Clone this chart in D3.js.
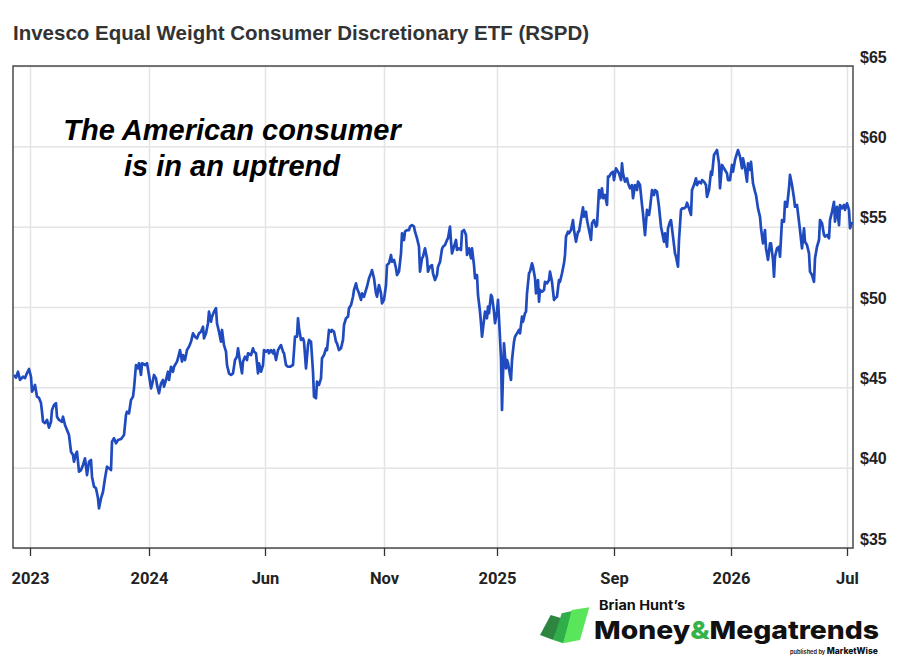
<!DOCTYPE html>
<meta charset="utf-8">
<script src="https://d3js.org/d3.v7.min.js"></script>
<body style="margin:0;background:#fff">
    <div id="viz"></div>
</body>

<style>
    text { font-family: "Liberation Sans", Arial, sans-serif; }
</style>

<script>
    // price series: [trading day, close]
    let series = [
        [1,45.77],[3,45.60],[5,45.97],[7,45.46],[10,45.66],[12,45.58],[14,45.89],[16,46.14],[18,45.66],[19,44.73],
        [21,44.96],[22,45.15],[24,44.42],[26,44.34],[28,44.02],[29,43.48],[30,42.86],[32,42.78],[34,42.97],[36,42.49],
        [38,42.86],[39,43.59],[41,43.90],[43,44.01],[44,43.17],[46,42.97],[49,42.86],[50,43.17],[52,42.66],[54,42.34],
        [56,42.03],[58,40.99],[60,40.79],[61,40.37],[63,40.89],[64,40.99],[66,39.75],[68,39.85],[70,40.17],[72,40.58],
        [74,39.54],[76,40.37],[78,40.48],[79,39.44],[81,38.82],[83,38.72],[85,38.09],[86,37.47],[88,38.09],[90,38.50],
        [92,39.34],[94,40.06],[96,39.96],[98,39.85],[99,41.62],[101,41.83],[103,41.52],[105,41.72],[108,41.78],[111,42.03],
        [113,43.28],[114,43.48],[116,43.38],[118,44.21],[120,44.42],[121,44.94],[123,46.39],[125,46.18],[126,46.50],[128,45.77],
        [129,46.50],[132,46.39],[134,46.50],[136,45.77],[138,44.94],[139,45.15],[141,45.77],[143,45.56],[144,45.15],[146,44.63],
        [148,45.25],[150,45.46],[151,45.04],[153,45.46],[155,45.97],[156,45.46],[158,46.28],[160,45.97],[161,46.28],[164,46.60],
        [165,46.81],[167,47.32],[169,46.60],[170,47.01],[172,46.70],[174,47.32],[176,47.53],[178,47.84],[180,48.36],[182,48.15],
        [184,48.05],[186,48.36],[188,48.46],[190,48.77],[191,48.05],[193,48.36],[195,48.99],[196,49.71],[198,49.09],[199,49.40],
        [201,49.71],[203,49.92],[204,48.99],[206,48.46],[208,47.84],[209,48.57],[211,47.63],[213,47.22],[214,46.39],[216,45.87],
        [218,45.77],[220,45.87],[222,46.70],[224,46.91],[225,47.43],[227,46.60],[229,45.87],[230,46.60],[232,46.91],[234,46.70],
        [235,47.12],[238,47.01],[240,47.43],[241,47.22],[243,47.12],[245,45.87],[246,46.50],[248,45.97],[250,46.39],[251,47.32],
        [253,47.22],[255,47.32],[256,47.12],[258,47.32],[260,47.12],[261,47.32],[263,46.70],[265,47.32],[266,47.43],[268,47.63],
        [270,47.22],[271,47.12],[273,46.39],[275,46.28],[277,46.28],[280,46.39],[282,48.15],[284,48.15],[285,49.30],[286,48.67],
        [288,47.95],[290,48.05],[291,47.84],[293,46.18],[295,47.63],[296,47.95],[298,47.84],[300,45.97],[301,44.42],[303,44.32],
        [304,45.35],[306,45.15],[308,45.56],[309,46.81],[311,47.01],[313,47.43],[314,47.32],[316,48.57],[318,48.46],[319,48.57],
        [321,48.46],[323,47.84],[324,47.74],[326,47.32],[328,47.43],[330,47.95],[331,48.88],[333,49.30],[335,49.40],[336,49.92],
        [338,50.12],[340,50.64],[341,51.06],[343,51.47],[344,51.16],[346,50.85],[348,50.44],[349,50.85],[351,50.64],[353,51.06],
        [354,51.26],[356,51.79],[358,52.10],[359,52.30],[361,51.79],[363,50.85],[364,50.64],[366,51.37],[368,50.85],[369,50.23],
        [371,50.44],[373,51.37],[374,52.61],[376,52.72],[378,53.24],[379,52.82],[381,52.93],[383,52.41],[384,51.99],[386,52.20],
        [388,53.34],[389,54.59],[391,54.17],[392,54.69],[394,54.79],[396,54.79],[397,55.00],[399,55.10],[401,55.00],[402,54.69],
        [404,54.28],[406,53.75],[407,52.20],[409,53.03],[410,53.13],[412,53.65],[414,53.03],[415,52.20],[417,52.51],[419,52.61],
        [420,52.10],[422,51.68],[424,51.99],[425,52.51],[427,52.80],[429,53.61],[430,53.75],[432,53.86],[434,54.17],[435,54.28],
        [437,55.00],[438,54.06],[439,53.34],[441,53.75],[443,54.17],[444,53.55],[446,53.65],[448,53.55],[449,54.69],[451,54.79],
        [453,54.48],[454,53.24],[456,53.65],[458,53.03],[459,53.65],[461,52.61],[462,51.79],[464,51.99],[465,50.75],[467,49.71],
        [468,48.99],[469,48.15],[471,49.19],[472,49.71],[474,49.30],[475,50.02],[476,49.61],[478,50.75],[479,50.64],[481,49.71],
        [482,48.99],[484,49.71],[485,50.44],[486,49.30],[488,46.81],[489,43.59],[490,45.77],[491,47.74],[493,46.18],[494,46.70],
        [495,46.50],[497,45.77],[498,45.46],[499,46.70],[501,47.84],[502,48.15],[504,48.36],[506,48.57],[507,48.36],[509,49.40],
        [510,49.09],[512,49.61],[513,49.71],[514,50.85],[516,52.10],[517,52.20],[519,52.72],[520,52.51],[522,51.79],[523,50.85],
        [525,51.68],[526,50.33],[527,51.06],[529,50.95],[531,51.06],[532,51.57],[534,51.47],[536,51.68],[537,52.20],[539,51.57],
        [541,50.44],[542,50.54],[544,50.64],[546,51.68],[547,51.57],[549,52.10],[551,52.72],[552,53.24],[553,54.38],[555,54.69],
        [556,54.59],[558,54.79],[560,55.41],[561,54.79],[563,54.06],[565,54.69],[566,54.69],[569,55.83],[570,56.20],[571,55.62],
        [573,55.93],[574,55.41],[576,54.79],[578,54.17],[579,55.21],[581,55.41],[583,55.00],[584,55.10],[586,57.28],[587,56.77],
        [589,57.39],[590,56.77],[592,56.97],[594,56.35],[595,58.11],[596,58.11],[598,58.32],[600,58.42],[601,57.90],[603,58.63],
        [604,58.53],[606,58.32],[608,57.90],[609,58.94],[610,58.32],[612,57.80],[614,58.01],[615,57.70],[617,57.39],[619,57.59],
        [620,56.77],[622,57.59],[624,57.28],[625,57.80],[627,57.59],[629,56.35],[630,55.83],[632,54.48],[634,56.04],[636,55.73],
        [637,56.14],[639,57.28],[641,56.97],[642,57.28],[644,57.18],[646,56.24],[648,55.00],[649,54.69],[651,54.06],[652,54.59],
        [654,53.75],[655,54.90],[657,55.31],[658,55.41],[660,54.38],[662,53.34],[663,53.13],[665,52.51],[666,54.17],[668,56.04],
        [669,56.14],[671,56.14],[673,56.24],[674,56.49],[676,56.14],[678,55.73],[679,57.28],[681,57.59],[683,58.01],[684,57.59],
        [686,57.80],[688,57.70],[689,57.90],[691,57.80],[693,57.59],[694,56.86],[696,57.28],[698,58.42],[699,58.22],[701,59.46],
        [703,59.67],[704,59.77],[706,58.94],[707,57.39],[709,58.84],[710,58.73],[712,58.53],[714,58.32],[715,57.90],[717,57.90],
        [719,58.84],[720,58.42],[722,59.15],[724,59.57],[725,59.77],[727,59.36],[729,58.63],[730,59.25],[732,58.63],[734,57.80],
        [735,58.94],[737,58.53],[738,59.04],[740,57.70],[742,57.18],[743,56.97],[745,56.14],[747,55.62],[748,54.90],[750,53.96],
        [752,54.79],[753,53.65],[755,52.93],[757,53.96],[758,53.96],[760,52.93],[761,51.89],[762,53.13],[764,53.65],[766,53.75],
        [767,53.13],[769,55.41],[771,55.31],[772,56.55],[774,56.24],[776,57.39],[777,58.22],[779,57.59],[781,56.77],[782,56.24],
        [784,56.35],[786,55.31],[787,54.79],[789,53.65],[791,54.90],[792,54.06],[794,53.86],[796,53.34],[797,52.20],[799,51.99],
        [801,51.57],[802,53.03],[804,53.75],[806,54.17],[807,55.41],[809,55.21],[811,54.48],[812,54.38],[814,54.48],[816,54.28],
        [817,55.41],[819,55.93],[821,56.55],[822,55.31],[824,56.24],[826,55.10],[827,56.35],[829,56.14],[831,56.35],[832,56.04],
        [834,56.45],[836,56.04],[837,54.90],[839,55.30]
    ];

    let tickDays = [17, 136, 252, 371, 484, 601, 718, 834];
    let tickLabels = ["2023", "2024", "Jun", "Nov", "2025", "Sep", "2026", "Jul"];
    let priceTicks = [35, 40, 45, 50, 55, 60, 65];

    let title = "Invesco Equal Weight Consumer Discretionary ETF (RSPD)";
    let note = ["The American consumer", "is in an uptrend"];

    let W = 900, H = 663;
    let plot = {left: 13, right: 853, top: 66, bottom: 548};

    let svg = d3.select("#viz")
        .append("svg")
        .attr("width", W)
        .attr("height", H);

    let x = d3.scaleLinear()
        .domain([0, 840])
        .range([plot.left, plot.right]);

    let y = d3.scaleLinear()
        .domain([35, 65])
        .range([plot.bottom, plot.top]);

    // gridlines
    let gridY = svg.append("g")
        .attr("transform", `translate(${plot.left},0)`)
        .call(d3.axisLeft(y).tickValues(priceTicks).tickSize(-(plot.right - plot.left)).tickFormat(""));
    let gridX = svg.append("g")
        .attr("transform", `translate(0,${plot.bottom})`)
        .call(d3.axisBottom(x).tickValues(tickDays).tickSize(-(plot.bottom - plot.top)).tickFormat(""));
    [gridY, gridX].forEach(g => {
        g.select(".domain").remove();
        g.selectAll(".tick line").attr("stroke", "#e4e4e4").attr("stroke-width", 1.5);
    });

    // frame
    svg.append("rect")
        .attr("x", plot.left)
        .attr("y", plot.top)
        .attr("width", plot.right - plot.left)
        .attr("height", plot.bottom - plot.top)
        .attr("fill", "none")
        .attr("stroke", "#4a4a4a")
        .attr("stroke-width", 1.5);

    // axes
    let xAxis = svg.append("g")
        .attr("transform", `translate(0,${plot.bottom})`)
        .call(d3.axisBottom(x).tickValues(tickDays).tickSize(8).tickPadding(16)
            .tickFormat((d, i) => tickLabels[i]));
    xAxis.select(".domain").remove();
    xAxis.selectAll(".tick line").attr("stroke", "#333").attr("stroke-width", 1.3);
    xAxis.selectAll(".tick text")
        .style("font-family", "Roboto, sans-serif")
        .style("font-weight", "bold")
        .style("font-size", "16.5px")
        .attr("fill", "#222");

    let yAxis = svg.append("g")
        .attr("transform", `translate(${plot.right},0)`)
        .call(d3.axisRight(y).tickValues(priceTicks).tickSize(0).tickPadding(7)
            .tickFormat(d => "$" + d));
    yAxis.select(".domain").remove();
    yAxis.selectAll(".tick text")
        .attr("dy", "-0.24em")
        .style("font-weight", "bold")
        .style("font-size", "16px")
        .attr("fill", "#222");

    // price line
    let line = d3.line()
        .x(d => x(d[0]))
        .y(d => y(d[1]));

    svg.append("path")
        .datum(series)
        .attr("d", line)
        .attr("fill", "none")
        .attr("stroke", "#1f4bbf")
        .attr("stroke-width", 2.7)
        .attr("stroke-linejoin", "round");

    // title
    svg.append("text")
        .attr("x", 13)
        .attr("y", 40)
        .text(title)
        .style("font-weight", "bold")
        .style("font-size", "20.5px")
        .attr("fill", "#333");

    // annotation
    svg.append("g")
        .selectAll("text")
        .data(note)
        .enter()
        .append("text")
            .attr("x", 232)
            .attr("y", (d, i) => 140 + i * 36)
            .attr("text-anchor", "middle")
            .text(d => d)
            .style("font-weight", "bold")
            .style("font-style", "italic")
            .style("font-size", "29px")
            .attr("fill", "#000");

    // logo
    let logo = svg.append("g");
    let bars = [
        {c: "#2e8540", p: [[540,635],[550.7,615],[561.7,618.3],[553.3,640]]},
        {c: "#2fae4a", p: [[553.3,640],[561.7,613.3],[573.3,610.7],[563.3,643.3]]},
        {c: "#5ae65a", p: [[563.3,643.3],[571.7,610],[589.3,607.3],[580,640]]}
    ];
    logo.selectAll("polygon")
        .data(bars)
        .enter()
        .append("polygon")
            .attr("points", d => d.p.map(q => q.join(",")).join(" "))
            .attr("fill", d => d.c);

    logo.append("text")
        .attr("x", 599)
        .attr("y", 610)
        .attr("textLength", 86)
        .attr("lengthAdjust", "spacingAndGlyphs")
        .text("Brian Hunt’s")
        .style("font-family", "Inter, sans-serif")
        .style("font-weight", 700)
        .style("font-size", "13px")
        .attr("fill", "#111");

    let mm = logo.append("text")
        .attr("x", 594)
        .attr("y", 639)
        .attr("textLength", 285)
        .attr("lengthAdjust", "spacingAndGlyphs")
        .style("font-family", "Inter, sans-serif")
        .style("font-weight", 800)
        .style("font-size", "25px")
        .attr("fill", "#111");
    mm.append("tspan").text("Money");
    mm.append("tspan").text("&").attr("fill", "#36b24a");
    mm.append("tspan").text("Megatrends");

    let pub = logo.append("text")
        .attr("x", 790)
        .attr("y", 654)
        .attr("textLength", 88)
        .attr("lengthAdjust", "spacingAndGlyphs")
        .style("font-family", "Inter, sans-serif")
        .attr("fill", "#111");
    pub.append("tspan").text("published by ").style("font-size", "6px").style("font-weight", 600);
    pub.append("tspan").text("MarketWise").style("font-size", "9px").style("font-weight", 800);
</script>
